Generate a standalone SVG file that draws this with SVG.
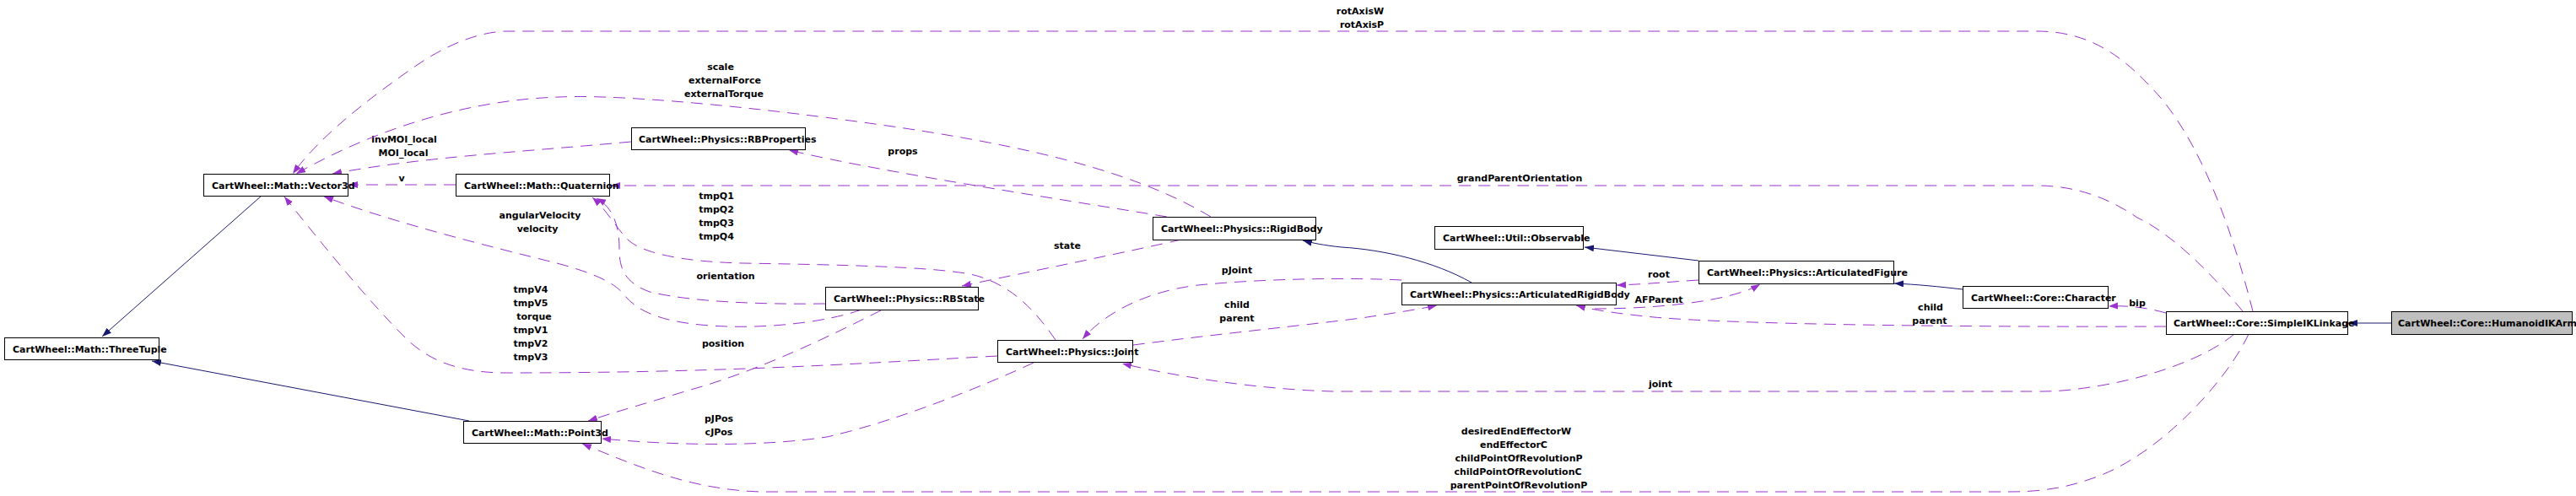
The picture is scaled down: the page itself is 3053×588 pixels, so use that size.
<svg xmlns="http://www.w3.org/2000/svg" width="3053" height="588" viewBox="0 0 3053 588">
<defs>
<marker id="ap" markerUnits="userSpaceOnUse" markerWidth="12" markerHeight="9" refX="11" refY="4" orient="auto"><path d="M0,0 L11,4 L0,8 z" fill="#9a32cd"/></marker>
<marker id="an" markerUnits="userSpaceOnUse" markerWidth="12" markerHeight="9" refX="11" refY="4" orient="auto"><path d="M0,0 L11,4 L0,8 z" fill="#191970"/></marker>
</defs>
<style>
.node rect{fill:#fff;stroke:#000;stroke-width:1}
.node.main rect{fill:#bfbfbf}
text{font-family:"DejaVu Sans",sans-serif;font-weight:bold;font-size:11px;fill:#000}
.lbl text{text-anchor:middle}
.use{fill:none;stroke:#9a32cd;stroke-width:1;stroke-dasharray:14,9;marker-end:url(#ap)}
.inh{fill:none;stroke:#191970;stroke-width:1;marker-end:url(#an)}
</style>
<rect width="3053" height="588" fill="#fff"/>
<g id="connectors">
<path class="inh" d="M310,232 L121,399"/>
<path class="inh" d="M556,499 L180,428"/>
<path class="inh" d="M1744,335 C1700,310 1640,296 1590,293 C1570,291 1555,288 1544,285"/>
<path class="inh" d="M2013,309 L1878,293"/>
<path class="inh" d="M2326,343 C2300,340 2270,337 2245,336"/>
<path class="inh" d="M2834,383 L2783,383"/>
<g class="lbl">
<path class="use" d="M2670,369 C2650,290 2615,180 2560,115 C2520,70 2480,37 2414,37 L602,37 C570,37 530,52 490,80 C440,115 380,160 347,206"/>
<text x="1612" y="17">rotAxisW</text><text x="1614" y="33">rotAxisP</text>
<path class="use" d="M2658,369 C2630,335 2580,280 2533,258 C2500,235 2460,220 2414,220 L724,220"/>
<text x="1801" y="215">grandParentOrientation</text>
<path class="use" d="M748,168 C620,180 500,186 394,206"/>
<text x="479" y="169">invMOI_local</text><text x="478" y="185">MOI_local</text>
<path class="use" d="M1435,257 C1340,200 1200,168 1000,142 C850,122 720,112 663,115 C560,118 450,150 351,206"/>
<text x="854" y="83">scale</text><text x="859" y="99">externalForce</text><text x="858" y="115">externalTorque</text>
<path class="use" d="M540,219 L413,219"/>
<text x="476" y="215">v</text>
<path class="use" d="M1383,257 C1250,235 1050,205 935,178"/>
<text x="1070" y="183">props</text>
<path class="use" d="M1400,284 C1330,300 1230,320 1140,339"/>
<text x="1265" y="295">state</text>
<path class="use" d="M1251,403 C1225,365 1195,335 1150,325 C1100,316 1000,314 880,312 C800,310 760,298 745,285 C730,270 720,250 702,234"/>
<text x="849" y="236">tmpQ1</text><text x="849" y="252">tmpQ2</text><text x="849" y="268">tmpQ3</text><text x="849" y="284">tmpQ4</text>
<path class="use" d="M978,360 C900,361 820,358 770,346 C740,335 734,318 734,295 C734,265 725,245 707,235"/>
<text x="860" y="331">orientation</text>
<path class="use" d="M1021,367 C980,382 900,392 830,385 C780,380 755,368 740,350 C730,336 705,324 660,312 C580,292 470,265 384,233"/>
<text x="640" y="259">angularVelocity</text><text x="637" y="275">velocity</text>
<path class="use" d="M1182,422 C1000,432 850,442 600,442 C540,442 505,425 480,400 C440,360 390,300 337,233"/>
<text x="629" y="347">tmpV4</text><text x="629" y="363">tmpV5</text><text x="633" y="379">torque</text><text x="629" y="395">tmpV1</text><text x="629" y="411">tmpV2</text><text x="629" y="427">tmpV3</text>
<path class="use" d="M1044,368 C990,395 900,440 815,463 C770,477 730,488 697,499"/>
<text x="857" y="411">position</text>
<path class="use" d="M1225,430 C1160,460 1060,500 980,518 C900,530 800,528 713,520"/>
<text x="852" y="500">pJPos</text><text x="852" y="516">cJPos</text>
<path class="use" d="M2665,396 C2640,450 2560,540 2480,567 C2450,578 2420,583 2380,583 L900,583 C820,580 760,555 690,526"/>
<text x="1797" y="515">desiredEndEffectorW</text><text x="1794" y="531">endEffectorC</text><text x="1800" y="547">childPointOfRevolutionP</text><text x="1799" y="563">childPointOfRevolutionC</text><text x="1800" y="579">parentPointOfRevolutionP</text>
<path class="use" d="M2648,396 C2620,420 2560,445 2490,457 C2460,462 2440,464 2420,464 L1580,464 C1500,462 1400,448 1330,431"/>
<text x="1968" y="459">joint</text>
<path class="use" d="M2567,387 C2300,388 2050,384 1960,376 C1920,372 1890,368 1868,362"/>
<text x="2288" y="368">child</text><text x="2287" y="384">parent</text>
<path class="use" d="M1343,409 C1450,395 1580,382 1620,376 C1660,370 1690,365 1703,362"/>
<text x="1466" y="365">child</text><text x="1466" y="381">parent</text>
<path class="use" d="M1661,332 C1600,329 1500,330 1420,338 C1360,345 1310,370 1283,402"/>
<text x="1466" y="324">pJoint</text>
<path class="use" d="M2013,332 C1980,334 1950,337 1916,338"/>
<text x="1966" y="329">root</text>
<path class="use" d="M1890,366 C1960,366 2050,358 2086,337"/>
<text x="1966" y="359">AFParent</text>
<path class="use" d="M2567,371 C2545,365 2525,362 2499,363"/>
<text x="2533" y="363">bip</text>
</g>
</g>
<g id="n_vector3d" class="node"><rect x="241.5" y="206.5" width="171" height="26"/><text x="251" y="224">CartWheel::Math::Vector3d</text></g>
<g id="n_quaternion" class="node"><rect x="540.5" y="206.5" width="182" height="26"/><text x="550" y="224">CartWheel::Math::Quaternion</text></g>
<g id="n_threetuple" class="node"><rect x="5.5" y="400.5" width="183" height="26"/><text x="15" y="418">CartWheel::Math::ThreeTuple</text></g>
<g id="n_point3d" class="node"><rect x="549.5" y="499.5" width="163" height="26"/><text x="559" y="517">CartWheel::Math::Point3d</text></g>
<g id="n_rbproperties" class="node"><rect x="748.5" y="151.5" width="206" height="26"/><text x="757" y="169">CartWheel::Physics::RBProperties</text></g>
<g id="n_rigidbody" class="node"><rect x="1366.5" y="257.5" width="193" height="27"/><text x="1376" y="275">CartWheel::Physics::RigidBody</text></g>
<g id="n_rbstate" class="node"><rect x="978.5" y="340.5" width="181" height="27"/><text x="988" y="358">CartWheel::Physics::RBState</text></g>
<g id="n_joint" class="node"><rect x="1182.5" y="403.5" width="160" height="26"/><text x="1192" y="421">CartWheel::Physics::Joint</text></g>
<g id="n_arb" class="node"><rect x="1661.5" y="335.5" width="254" height="26"/><text x="1671" y="353">CartWheel::Physics::ArticulatedRigidBody</text></g>
<g id="n_observable" class="node"><rect x="1700.5" y="268.5" width="176" height="27"/><text x="1710" y="286">CartWheel::Util::Observable</text></g>
<g id="n_af" class="node"><rect x="2013.5" y="309.5" width="231" height="27"/><text x="2023" y="327">CartWheel::Physics::ArticulatedFigure</text></g>
<g id="n_character" class="node"><rect x="2326.5" y="339.5" width="172" height="26"/><text x="2336" y="357">CartWheel::Core::Character</text></g>
<g id="n_simpleik" class="node"><rect x="2567.5" y="369.5" width="215" height="27"/><text x="2576" y="387">CartWheel::Core::SimpleIKLinkage</text></g>
<g id="n_humanoid" class="node main"><rect x="2834.5" y="369.5" width="214" height="27"/><text x="2842" y="387">CartWheel::Core::HumanoidIKArm</text></g>
</svg>
